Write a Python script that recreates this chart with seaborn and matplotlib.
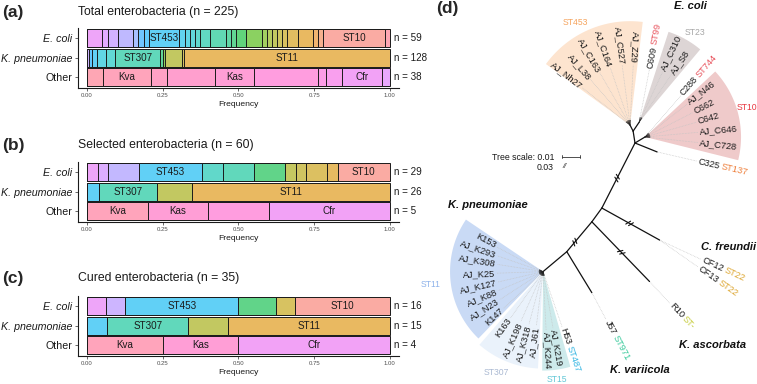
import numpy as np
import matplotlib
matplotlib.use("Agg")
import matplotlib.pyplot as plt
import seaborn as sns
from matplotlib.textpath import TextPath
from matplotlib.font_manager import FontProperties

sns.set_theme(style="ticks")
plt.rcParams["font.family"] = ["Liberation Sans", "DejaVu Sans"]

# ---------------------------------------------------------------- data
species = ["E. coli", "K. pneumoniae", "Other"]

# (a) total enterobacteria: isolate counts per sequence type, left to right
a_ecoli = [3, 1, 2, 3, 1, 1, 1, 6, 1, 1, 1, 1, 2, 3, 1, 1, 2, 3, 1, 1, 1, 1, 1, 2, 3, 1, 1, 12, 1]
a_ecoli_lab = ["", "", "", "", "", "", "", "ST453"] + [""] * 19 + ["ST10", ""]
a_kpn = [1, 1, 2, 4, 4, 19, 1, 1, 7, 1, 87]
a_kpn_lab = ["", "", "", "", "", "ST307", "", "", "", "", "ST11"]
a_other = [2, 6, 2, 6, 5, 8, 1, 2, 5, 1]
a_other_lab = ["", "Kva", "", "", "Kas", "", "", "", "Cfr", ""]

# (b) selected enterobacteria
b_ecoli = [1, 1, 3, 6, 2, 3, 3, 1, 1, 2, 1, 5]
b_ecoli_lab = ["", "", "", "ST453", "", "", "", "", "", "", "", "ST10"]
b_kpn = [1, 5, 3, 17]
b_kpn_lab = ["", "ST307", "", "ST11"]
b_other = [1, 1, 1, 2]
b_other_lab = ["Kva", "Kas", "", "Cfr"]

# (c) cured enterobacteria
c_ecoli = [1, 1, 6, 2, 1, 5]
c_ecoli_lab = ["", "", "ST453", "", "", "ST10"]
c_kpn = [1, 4, 2, 8]
c_kpn_lab = ["", "ST307", "", "ST11"]
c_other = [1, 1, 2]
c_other_lab = ["Kva", "Kas", "Cfr"]

# (d) tree: branches (node, parent, length px, angle deg)
tree_branches = [
    ("ecoli", "root", 12, 99),
    ("st453", "ecoli", 6.7, 117),
    ("st23", "ecoli", 10.8, 56),
    ("st10", "root", 11.7, 31),
    ("c325", "root", 23.8, -22),
    ("n1", "root", 73, -117),
    ("cfre", "n1", 66, -29),
    ("n2", "n1", 17, -126),
    ("kasc", "n2", 83, -46),
    ("n3", "n2", 39, -130),
    ("kvar", "n3", 48, -58.6),
    ("kpn", "n3", 31, -140),
]
broken_branches = {"n1": 0.54, "cfre": 0.48, "kasc": 0.51, "n3": 0.68}

leaf_node = ["st453"] * 6 + ["st23"] * 3 + ["st10"] * 6 + ["c325", "cfre", "cfre", "kasc", "kvar"] + ["kpn"] * 15
leaf_name = ["AJ_Nh27", "AJ_L38", "AJ_C163", "AJ_C164", "AJ_C527", "AJ_Z29",
             "C609", "AJ_C310", "AJ_S8",
             "C288", "AJ_N46", "C662", "C642", "AJ_C646", "AJ_C728",
             "C325", "CF12", "CF13", "R10", "J57",
             "K153", "AJ_K293", "AJ_K308", "AJ_K25", "AJ_K127", "AJ_K88", "AJ_N23", "K147",
             "K163", "AJ_K198", "AJ_K318", "AJ_J61", "AJ_K244", "AJ_K219", "H53"]
leaf_st = ["", "", "", "", "", "",
           "ST99", "", "",
           "ST744", "", "", "", "", "",
           "ST137", "ST22", "ST22", "ST-", "ST971",
           "", "", "", "", "", "", "", "",
           "", "", "", "", "", "", "ST487"]
leaf_angle = [142, 131, 120, 109, 97.5, 87,
              79, 65, 56,
              49, 38, 27, 16, 5, -6,
              -13, -25, -35, -47, -62,
              152, 161, 171, 182, 193, 203, 213, 223,
              235, 246, 255, 263, 273, 280, 289]
leaf_radius = [62, 62, 62, 62, 62, 62,
               55, 57, 59,
               56, 55, 55, 55, 55, 55,
               42, 47, 48, 31, 32,
               54, 50, 48, 48, 48, 50, 53, 56,
               58, 56, 56, 56, 60, 59, 60]
leaf_stub = [5] * 15 + [0] * 5 + [4] * 15

# clades (node, angle from, angle to, radius, ST name)
clade_node = ["st453", "st23", "st10", "kpn", "kpn", "kpn"]
clade_name = ["ST453", "ST23", "ST10", "ST11", "ST307", "ST15"]
clade_theta = [(83, 144), (50, 72), (-14, 43), (146, 226), (229, 267), (269.5, 286)]
clade_radius = [104, 95, 96, 93, 97, 99]
clade_label_pos = [(116, 118), (106, 58), (106, 16), (113, 186.6), (111, 245.4), (109, 277.2)]

# ---------------------------------------------------------------- style
a_ecoli_hue = [300, 290, 279, 268, 258, 247, 237, 226, 216, 205, 195, 184, 174, 163, 153,
               142, 132, 121, 111, 100, 90, 79, 69, 58, 48, 37, 27, 16, 6]
a_kpn_hue = [275, 245, 225, 205, 190, 168, 145, 120, 90, 70, 48]
a_other_hue = [5, 0, 352, 345, 338, 330, 322, 315, 305, 295]
b_ecoli_hue = [300, 285, 270, 226, 180, 168, 137, 88, 78, 65, 52, 16]
b_kpn_hue = [225, 168, 90, 48]
b_other_hue = [0, 338, 330, 305]
c_ecoli_hue = [300, 275, 226, 137, 70, 16]
c_kpn_hue = [225, 168, 90, 48]
c_other_hue = [0, 338, 305]

st_colors = {"ST99": "#E8505A", "ST744": "#E8505A", "ST137": "#EE7F3B", "ST22": "#DDA631",
             "ST-": "#C5CB3A", "ST971": "#38C99B", "ST487": "#33B5E2"}
clade_fill = ["#FDE4CF", "#DDD5D5", "#EFCACA", "#C9DAF5", "#EAF2FB", "#CDEAEB"]
clade_text = ["#F5A45E", "#A6A6A6", "#E8353F", "#8FB3EA", "#AAB9D2", "#62C7D6"]


def hcl_color(h, c=100.0, l=65.0, alpha=0.62):
    hr = np.deg2rad(h)
    u, v = c * np.cos(hr), c * np.sin(hr)
    Xn, Yn, Zn = 0.95047, 1.0, 1.08883
    den = Xn + 15 * Yn + 3 * Zn
    un, vn = 4 * Xn / den, 9 * Yn / den
    Y = ((l + 16) / 116) ** 3
    up = u / (13 * l) + un
    vp = v / (13 * l) + vn
    X = Y * 9 * up / (4 * vp)
    Z = Y * (12 - 3 * up - 20 * vp) / (4 * vp)
    M = np.array([[3.2406, -1.5372, -0.4986], [-0.9689, 1.8758, 0.0415], [0.0557, -0.2040, 1.0570]])
    rgb = np.clip(M @ np.array([X, Y, Z]), 0, 1)
    rgb = np.where(rgb <= 0.0031308, 12.92 * rgb, 1.055 * rgb ** (1 / 2.4) - 0.055)
    rgb = np.clip(rgb, 0, 1)
    return tuple(alpha * rgb + (1 - alpha))


W, H = 757, 384
fig = plt.figure(figsize=(W / 100, H / 100), dpi=100)
DARK = "#1a1a1a"


def px_axes(left, top, right, bottom):
    return fig.add_axes([left / W, 1 - bottom / H, (right - left) / W, (bottom - top) / H])


panels = [
    ("(a)", "Total enterobacteria", [a_ecoli, a_kpn, a_other], [a_ecoli_lab, a_kpn_lab, a_other_lab],
     [a_ecoli_hue, a_kpn_hue, a_other_hue], 28, 88, 12),
    ("(b)", "Selected enterobacteria", [b_ecoli, b_kpn, b_other], [b_ecoli_lab, b_kpn_lab, b_other_lab],
     [b_ecoli_hue, b_kpn_hue, b_other_hue], 162, 222, 145),
    ("(c)", "Cured enterobacteria", [c_ecoli, c_kpn, c_other], [c_ecoli_lab, c_kpn_lab, c_other_lab],
     [c_ecoli_hue, c_kpn_hue, c_other_hue], 296, 356, 278),
]

for tag, title, rows, labs, hues, top, bottom, ty in panels:
    ax = px_axes(78, top, 399, bottom)
    total = 0
    for i, (counts, lab, hue) in enumerate(zip(rows, labs, hues)):
        n = int(np.sum(counts))
        total += n
        cum = np.cumsum(counts) / n
        starts = np.concatenate([[0.0], cum[:-1]])
        cols = [hcl_color(h) for h in hue]
        for k in range(len(counts) - 1, -1, -1):
            sns.barplot(x=[cum[k]], y=[species[i]], order=species, orient="h", color=cols[k],
                        saturation=1, width=0.92, edgecolor=DARK, linewidth=0.7,
                        errorbar=None, ax=ax)
        for k, s in enumerate(lab):
            if s:
                ax.text((starts[k] + cum[k]) / 2, i, s, ha="center", va="center",
                        fontsize=7.1, color=DARK)
        ax.text(1.013, i, f"n = {n}", ha="left", va="center", fontsize=7.1,
                color=DARK, clip_on=False)
    ax.set_xlim(-0.03, 1.03)
    ax.set_ylim(2.56, -0.51)
    ax.set_xticks([0, 0.25, 0.5, 0.75, 1.0])
    ax.set_xticklabels(["0.00", "0.25", "0.50", "0.75", "1.00"])
    ax.set_ylabel("")
    ax.set_xlabel("Frequency", fontsize=6.1, labelpad=2, color=DARK)
    ax.tick_params(axis="x", labelsize=4.3, length=2, width=0.6, pad=1.5, colors="#4d4d4d")
    ax.tick_params(axis="y", labelsize=7.7, length=2.5, width=0.6, pad=1.8, colors="#4d4d4d",
                   labelcolor=DARK)
    for t in ax.get_yticklabels():
        if t.get_text() != "Other":
            t.set_fontstyle("italic")
    sns.despine(ax=ax)
    for sp in ("left", "bottom"):
        ax.spines[sp].set_linewidth(0.8)
        ax.spines[sp].set_color(DARK)
    fig.text(2 / W, 1 - ty / H, tag, fontsize=12.5, fontweight="bold", ha="left", va="center")
    fig.text(78 / W, 1 - ty / H, f"{title} (n = {total})", fontsize=8.8, ha="left",
             va="center", color=DARK)

# ---------------------------------------------------------------- tree (d)
tax = fig.add_axes([400 / W, 0, 357 / W, 1])
tax.set_xlim(400, 757)
tax.set_ylim(384, 0)
tax.axis("off")


def polar(p, r, a):
    return (p[0] + r * np.cos(np.deg2rad(a)), p[1] - r * np.sin(np.deg2rad(a)))


pos = {"root": (635.0, 143.0)}
for node, parent, length, angle in tree_branches:
    pos[node] = polar(pos[parent], length, angle)

# clade wedges
for node, (t1, t2), r, fc in zip(clade_node, clade_theta, clade_radius, clade_fill):
    c = pos[node]
    th = np.linspace(t1, t2, 60)
    xs = [c[0]] + [c[0] + r * np.cos(np.deg2rad(t)) for t in th]
    ys = [c[1]] + [c[1] - r * np.sin(np.deg2rad(t)) for t in th]
    tax.fill(xs, ys, color=fc, lw=0, zorder=0)
for node, name, (r, a), col in zip(clade_node, clade_name, clade_label_pos, clade_text):
    x, y = polar(pos[node], r, a)
    tax.text(x, y, name, fontsize=6.2, color=col, ha="center", va="center")

# branches
for node, parent, length, angle in tree_branches:
    p0, p1 = pos[parent], pos[node]
    tax.plot([p0[0], p1[0]], [p0[1], p1[1]], color="#111111", lw=0.9, zorder=3,
             solid_capstyle="round")
    if node in broken_branches:
        f = broken_branches[node]
        for off in (-1.6, 1.6):
            cx = p0[0] + (p1[0] - p0[0]) * f + off * np.cos(np.deg2rad(angle))
            cy = p0[1] + (p1[1] - p0[1]) * f - off * np.sin(np.deg2rad(angle))
            a2 = angle + 60
            dx, dy = 2.8 * np.cos(np.deg2rad(a2)), -2.8 * np.sin(np.deg2rad(a2))
            tax.plot([cx - dx, cx + dx], [cy - dy, cy + dy], color="#111111", lw=0.8, zorder=4)

# leaves
fp = FontProperties(family="Liberation Sans", size=6.7)
LEAF_FS = 6.7
for node, name, st, ang, rad, stub in zip(leaf_node, leaf_name, leaf_st, leaf_angle,
                                            leaf_radius, leaf_stub):
    c = pos[node]
    if stub:
        s1 = polar(c, stub, ang)
        tax.plot([c[0], s1[0]], [c[1], s1[1]], color="#222222", lw=0.5, zorder=3)
        d0 = s1
    else:
        d0 = c
    d1 = polar(c, rad - 1.5, ang)
    tax.plot([d0[0], d1[0]], [d0[1], d1[1]], color="#c4c4c4", lw=0.5, ls=(0, (1, 1.2)), zorder=2)
    x, y = polar(c, rad, ang)
    flip = 84 < (ang % 360) < 268
    if flip:
        tax.text(x, y, name, fontsize=LEAF_FS, rotation=ang - 180, rotation_mode="anchor",
                 ha="right", va="center", color=DARK, zorder=5)
    else:
        tax.text(x, y, name, fontsize=LEAF_FS, rotation=ang, rotation_mode="anchor",
                 ha="left", va="center", color=DARK, zorder=5)
        if st:
            wpx = TextPath((0, 0), name + " ", prop=fp).get_extents().width * 100 / 72
            wpx += 2.5
            x2, y2 = polar(c, rad + wpx, ang)
            tax.text(x2, y2, st, fontsize=LEAF_FS, rotation=ang, rotation_mode="anchor",
                     ha="left", va="center", color=st_colors[st], zorder=5)

# species names and annotations
spec_kw = dict(fontsize=8, fontweight="bold", fontstyle="italic", color="#111111")
tax.text(690, 6, "E. coli", ha="center", va="center", **spec_kw)
tax.text(488, 205, "K. pneumoniae", ha="center", va="center", **spec_kw)
tax.text(756, 247, "C. freundii", ha="right", va="center", **spec_kw)
tax.text(713, 345, "K. ascorbata", ha="center", va="center", **spec_kw)
tax.text(640, 370, "K. variicola", ha="center", va="center", **spec_kw)
tax.text(436, 8, "(d)", fontsize=12.5, fontweight="bold", ha="left", va="center")

tax.text(554, 157, "Tree scale: 0.01", fontsize=6.3, ha="right", va="center", color=DARK)
tax.plot([562, 580], [156.5, 156.5], color="#333333", lw=0.6)
tax.plot([562, 562], [155, 158], color="#333333", lw=0.6)
tax.plot([580, 580], [155, 158], color="#333333", lw=0.6)
tax.text(554, 167, "0.03", fontsize=6.3, ha="right", va="center", color=DARK)
tax.text(562, 167, "//", fontsize=5.5, ha="left", va="center", color="#333333",
         fontstyle="italic")

fig.savefig("out.png", dpi=100)
